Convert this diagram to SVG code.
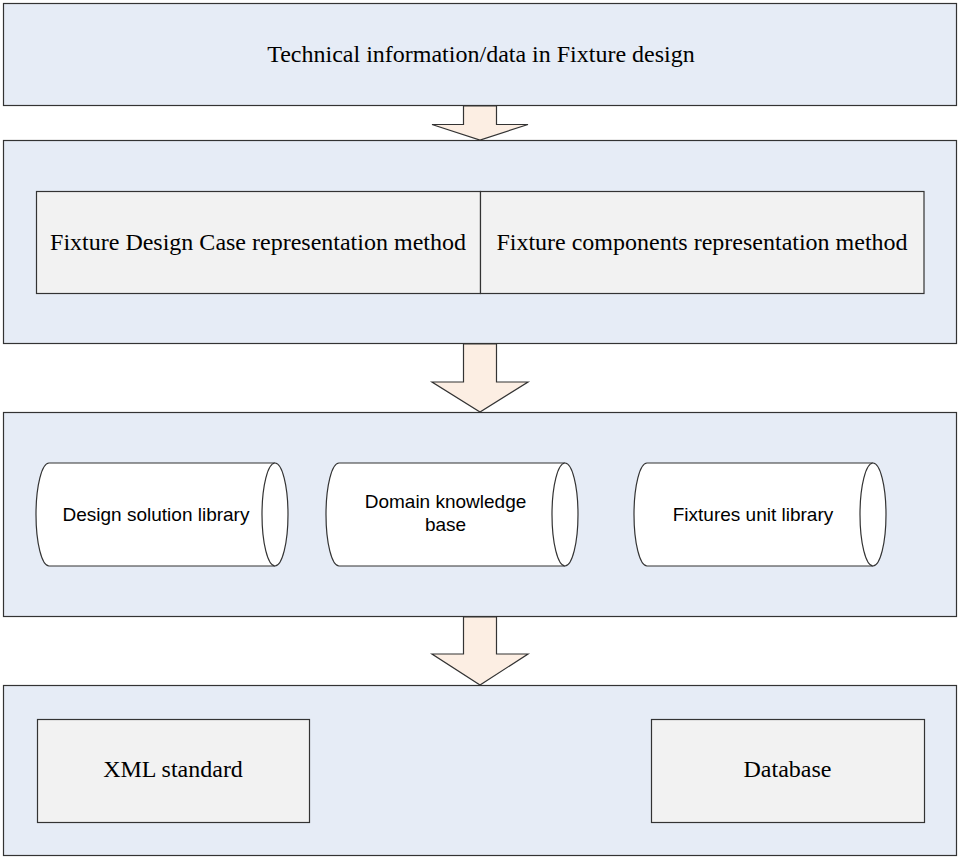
<svg xmlns="http://www.w3.org/2000/svg" width="958" height="857" viewBox="0 0 958 857">
<style>
.panel{fill:#E6ECF6;stroke:#333;stroke-width:1.2}
.inner{fill:#F2F2F2;stroke:#333;stroke-width:1.2}
.arrow{fill:#FCEEE3;stroke:#333;stroke-width:1.2}
.cyl{fill:#FFFFFF;stroke:#333;stroke-width:1.2}
.tnr{font-family:"Liberation Serif","Times New Roman",serif;font-size:24px;fill:#000;text-anchor:middle}
.ar{font-family:"Liberation Sans",Arial,sans-serif;font-size:19px;fill:#000;text-anchor:middle}
</style>
<rect width="958" height="857" fill="#FFFFFF"/>
<g id="panel1">
<rect class="panel" x="3.5" y="3.5" width="953" height="102"/>
<text class="tnr" x="481" y="62">Technical information/data in Fixture design</text>
</g>
<g id="panel2">
<rect class="panel" x="3.5" y="140.5" width="953" height="203"/>
<g id="case-method">
<rect class="inner" x="36.5" y="191.5" width="444" height="102"/>
<text class="tnr" x="258" y="250">Fixture Design Case representation method</text>
</g>
<g id="components-method">
<rect class="inner" x="480.5" y="191.5" width="443.5" height="102"/>
<text class="tnr" x="702" y="250">Fixture components representation method</text>
</g>
</g>
<g id="panel3">
<rect class="panel" x="3.5" y="412.5" width="953" height="204"/>
<g id="design-solution-library">
<path class="cyl" d="M49,463 L275,463 A13,51.5 0 0 1 275,566 L49,566 A13,51.5 0 0 1 49,463 Z"/>
<path class="cyl" d="M275,463 A13,51.5 0 0 0 275,566" fill="none"/>
<text class="ar" x="156" y="521">Design solution library</text>
</g>
<g id="domain-knowledge-base">
<path class="cyl" d="M339,463 L565,463 A13,51.5 0 0 1 565,566 L339,566 A13,51.5 0 0 1 339,463 Z"/>
<path class="cyl" d="M565,463 A13,51.5 0 0 0 565,566" fill="none"/>
<text class="ar" x="445.5" y="508">Domain knowledge</text>
<text class="ar" x="445.5" y="531">base</text>
</g>
<g id="fixtures-unit-library">
<path class="cyl" d="M647,463 L873,463 A13,51.5 0 0 1 873,566 L647,566 A13,51.5 0 0 1 647,463 Z"/>
<path class="cyl" d="M873,463 A13,51.5 0 0 0 873,566" fill="none"/>
<text class="ar" x="753" y="521">Fixtures unit library</text>
</g>
</g>
<g id="panel4">
<rect class="panel" x="3.5" y="685.5" width="953" height="170"/>
<g id="xml-standard">
<rect class="inner" x="37.5" y="719.5" width="272" height="103"/>
<text class="tnr" x="173" y="777">XML standard</text>
</g>
<g id="database">
<rect class="inner" x="651.5" y="719.5" width="273" height="103"/>
<text class="tnr" x="787.5" y="777">Database</text>
</g>
</g>
<g id="connectors">
<polygon class="arrow" points="463.5,106 496.5,106 496.5,124.5 528,124.5 480,140 432,124.5 463.5,124.5"/>
<polygon class="arrow" points="463.5,344 496.5,344 496.5,382 528,382 480,412 432,382 463.5,382"/>
<polygon class="arrow" points="463.5,617 496.5,617 496.5,654 528,654 480,685 432,654 463.5,654"/>
</g>
</svg>
